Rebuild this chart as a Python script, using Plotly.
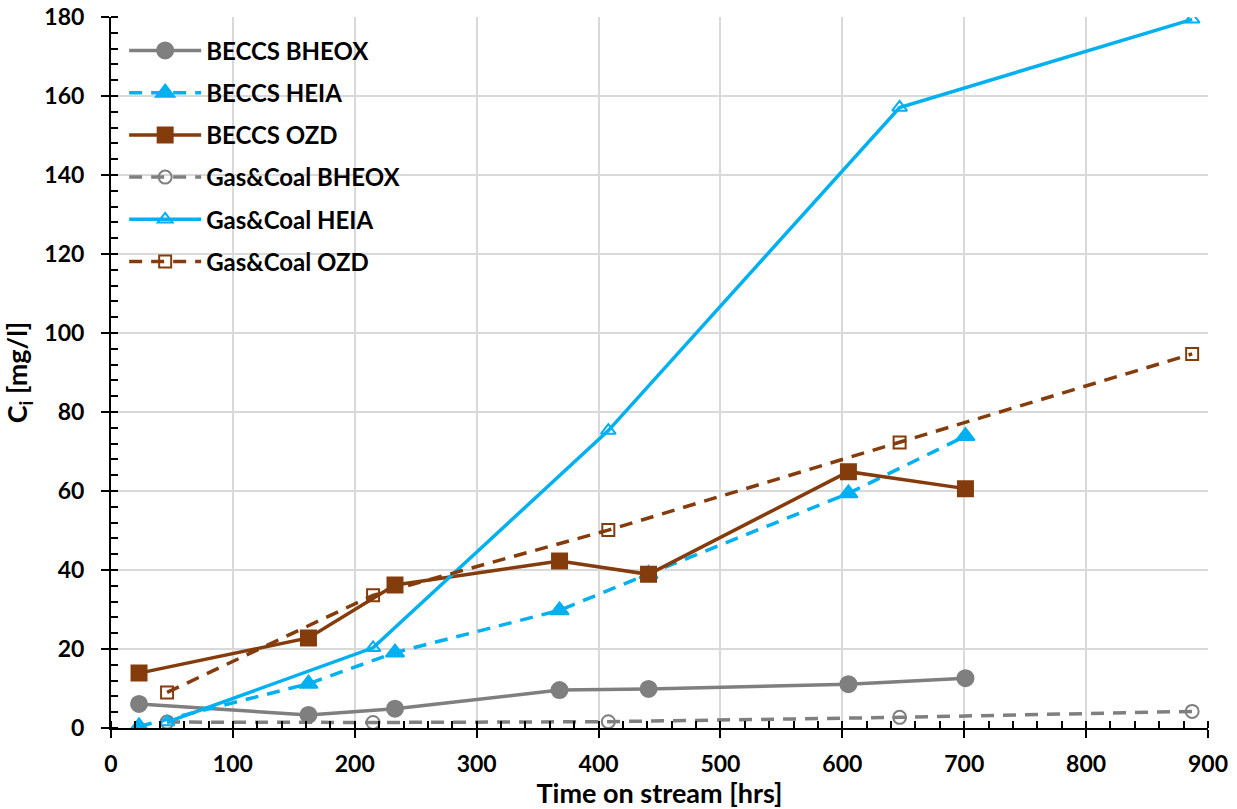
import plotly.graph_objects as go

# BECCS sampling times and concentrations
beccs_t = [23, 162, 233, 368, 441, 605, 701]
beccs_bheox = [6.1, 3.3, 4.9, 9.6, 9.9, 11.1, 12.6]
beccs_heia_t = [23, 162, 233, 368, 441, 605, 701]
beccs_heia = [0.4, 11.2, 19.1, 29.8, 39.0, 59.4, 73.9]
beccs_ozd = [13.9, 22.8, 36.2, 42.3, 38.9, 64.9, 60.6]

# Gas & Coal sampling times and concentrations
gc_t = [46, 215, 408, 647, 887]
gc_bheox = [1.5, 1.4, 1.6, 2.7, 4.2]
gc_heia = [1.5, 20.3, 75.3, 157.1, 179.4]
gc_ozd = [9.0, 33.6, 50.1, 72.3, 94.7]

GRAY = "#7f7f7f"
CYAN = "#00b0f0"
BROWN = "#843c0c"
DASH = "13px,9px"

fig = go.Figure()

series = [
    ("BECCS BHEOX", beccs_t, beccs_bheox, GRAY, "solid", "circle", 16),
    ("BECCS HEIA", beccs_heia_t, beccs_heia, CYAN, DASH, "triangle-up", 16),
    ("BECCS OZD", beccs_t, beccs_ozd, BROWN, "solid", "square", 15),
    ("Gas&Coal BHEOX", gc_t, gc_bheox, GRAY, DASH, "circle-open", 13),
    ("Gas&Coal HEIA", gc_t, gc_heia, CYAN, "solid", "triangle-up-open", 13),
    ("Gas&Coal OZD", gc_t, gc_ozd, BROWN, DASH, "square-open", 12),
]

for i, (name, x, y, col, dash, sym, size) in enumerate(series):
    fig.add_trace(go.Scatter(
        x=x, y=y, name=name, mode="lines+markers",
        legendgroup=f"g{i}",
        line=dict(color=col, width=3.5, dash=dash),
        marker=dict(symbol=sym, size=size, color=col,
                    line=dict(color=col, width=2)),
    ))

FAM = "Lato, Arial"
axis_font = dict(family=FAM, size=23, color="black", weight="bold")
title_font = dict(family=FAM, size=27, color="black", weight="bold")

fig.update_layout(
    width=1237, height=809,
    margin=dict(l=111, r=29, t=17, b=81),
    paper_bgcolor="white", plot_bgcolor="white",
    font=dict(family=FAM, color="black"),
    showlegend=True,
    legend=dict(
        x=0.012, y=0.984, xanchor="left", yanchor="top",
        bgcolor="rgba(0,0,0,0)",
        font=dict(family=FAM, size=24, color="black", weight="bold"),
        tracegroupgap=8, itemwidth=72,
    ),
    xaxis=dict(
        range=[0, 900], dtick=100, tick0=0, automargin=False,
        showgrid=True, gridcolor="#d9d9d9", gridwidth=2,
        showline=True, linecolor="black", linewidth=2,
        ticks="outside", ticklen=8, tickwidth=2, tickcolor="black",
        minor=dict(dtick=20, ticks="inside", ticklen=7, tickwidth=1.5, tickcolor="black", showgrid=False),
        tickfont=axis_font, zeroline=False, ticklabelstandoff=6,
        title=dict(text="Time on stream [hrs]", standoff=4, font=title_font),
    ),
    yaxis=dict(
        range=[0, 180], dtick=20, tick0=0, automargin=False,
        showgrid=True, gridcolor="#d9d9d9", gridwidth=2,
        showline=True, linecolor="black", linewidth=2,
        ticks="outside", ticklen=8, tickwidth=2, tickcolor="black",
        minor=dict(dtick=4, ticks="inside", ticklen=7, tickwidth=1.5, tickcolor="black", showgrid=False),
        tickfont=axis_font, zeroline=False, ticklabelstandoff=12,
        title=dict(text="C<sub>i</sub> [mg/l]", standoff=14, font=title_font),
    ),
)

fig.write_html("out.html")
